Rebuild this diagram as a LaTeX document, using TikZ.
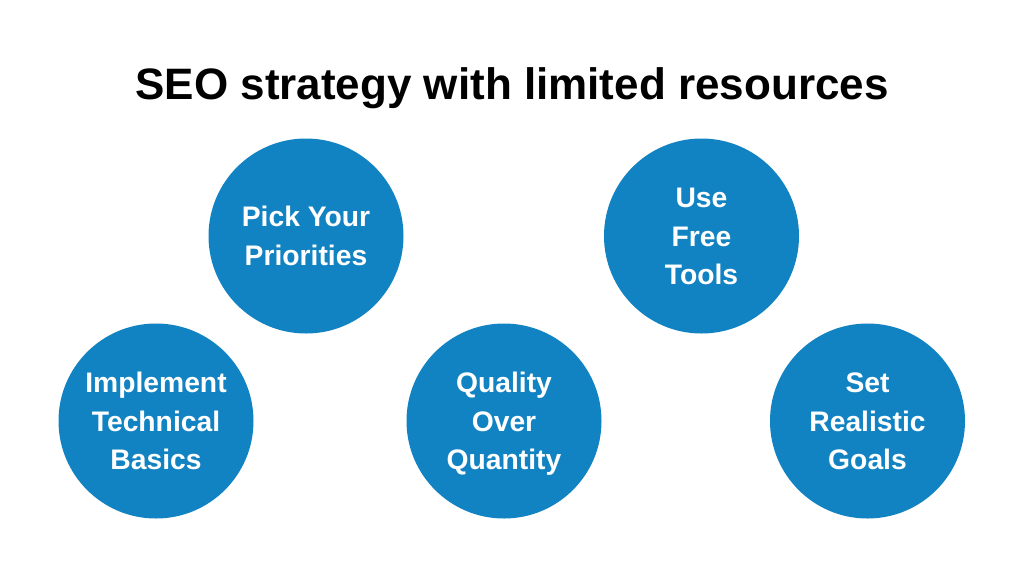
\documentclass[tikz,border=0pt]{standalone}
\usepackage{fontspec}
\setmainfont{Liberation Sans}
\definecolor{blob}{HTML}{1283C2}
\newcommand{\firstline}{\rule{0pt}{24pt}\strut}
\tikzset{blob/.style={circle,fill=blob,minimum size=146.25pt,inner sep=0pt,text=white,align=center,font=\fontsize{21.2}{28.9}\selectfont\bfseries}}
\begin{document}
\begin{tikzpicture}[x=0.75pt,y=-0.75pt]
\useasboundingbox (0,0) rectangle (1024,576);
\fill[white] (0,0) rectangle (1024,576);
\node[font=\fontsize{33}{40}\selectfont\bfseries] (title) at (512,88) {SEO strategy with limited resources};
\node[blob] (a) at (306,236) {\firstline Pick Your\\\strut Priorities};
\node[blob] (b) at (701.5,236) {\firstline Use\\\strut Free\\\strut Tools};
\node[blob] (c) at (156,421) {\firstline Implement\\\strut Technical\\\strut Basics};
\node[blob] (d) at (504,421) {\firstline Quality\\\strut Over\\\strut Quantity};
\node[blob] (e) at (867.5,421) {\firstline Set\\\strut Realistic\\\strut Goals};
\end{tikzpicture}
\end{document}
